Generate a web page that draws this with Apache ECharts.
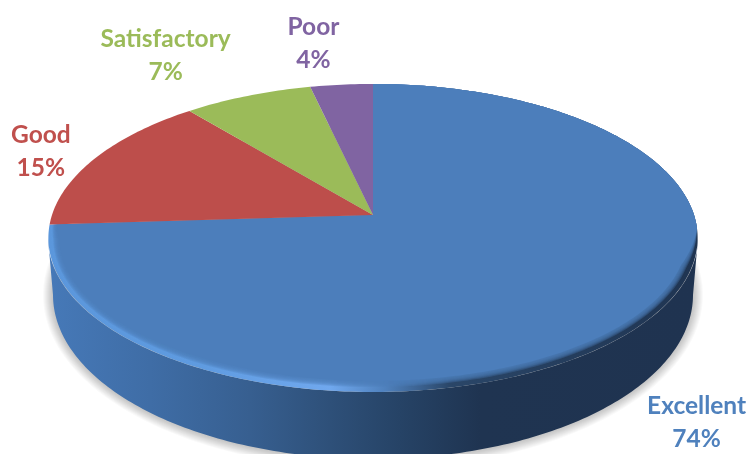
<!DOCTYPE html>
<html><head><meta charset="utf-8">
<style>html,body{margin:0;padding:0;background:#fff}#c{width:749px;height:454px}</style>
<script src="https://cdn.jsdelivr.net/npm/echarts@6/dist/echarts.min.js"></script>
</head><body><div id="c"></div>
<script>
const categories = ['Excellent', 'Good', 'Satisfactory', 'Poor'];
const values = [74.0, 15.0, 7.4, 3.6];
const colors = ['#4c7ebb', '#bd4e4b', '#9bbb59', '#8064a2'];
const textColors = ['#4f81bd', '#c0504d', '#9bbb59', '#8064a2'];
const labelNudge = [[63, 93], [-54, -7], [-82, -40], [-28, -41]];

// perspective disc layout
const CX = 373, CY = 215, B = 321, A = 150.6, K = 0.149;
const TOP = {cy: 238, rx: 325, ry: 154};
const BOT = {cy: 295, rx: 320, ry: 164};
const total = values.reduce((a, b) => a + b, 0);
function project(th) {
  const u = Math.sin(th), v = Math.cos(th), d = 1 + K * v;
  return [CX + B * u / d, CY - A * v / d];
}
function clamp(t) { return Math.max(0, Math.min(1, t)); }
function inset(p, amt) {
  const onRight = p[0] > CX;
  const t = onRight ? clamp((p[1] - 228) / 40) : clamp((p[1] - 195) / 45);
  const f = clamp((p[1] - 238) / 154);
  return [CX + (p[0] - CX) * (1 - amt * 11 / 325 * t), p[1] - amt * 11 * f];
}
function sector(a0, a1, amt) {
  const pts = [[CX, CY]], n = Math.max(8, Math.ceil((a1 - a0) * 60));
  for (let i = 0; i <= n; i++) {
    const p = project(a0 + (a1 - a0) * i / n);
    pts.push(amt ? inset(p, amt) : p);
  }
  return pts;
}
function wallPoints() {
  const pts = [], n = 180;
  for (let i = 0; i <= n; i++) {
    const a = Math.PI * i / n;
    pts.push([CX - BOT.rx * Math.cos(a), BOT.cy + BOT.ry * Math.sin(a)]);
  }
  for (let i = n; i >= 0; i--) {
    const a = Math.PI * i / n;
    pts.push([CX - TOP.rx * Math.cos(a), TOP.cy + TOP.ry * Math.sin(a)]);
  }
  return pts;
}
function hGrad(stops) {
  const x0 = 48, x1 = 698;
  return new echarts.graphic.LinearGradient(x0, 0, x1, 0,
    stops.map(s => ({offset: (s[0] - x0) / (x1 - x0), color: s[1]})), true);
}
const wallFill = [[48,'#4679b8'],[150,'#3f6da6'],[250,'#375f90'],[330,'#2e5079'],[400,'#264366'],[480,'#1f3451'],[698,'#1f3350']];
const rimFill = [[48,'#5b97dc'],[200,'#5f9be0'],[330,'#70a8ee'],[385,'#4f81bd'],[450,'#2a4668'],[698,'#1f3451']];

function renderItem(params, api) {
  const i = params.dataIndex;
  let start = 0;
  for (let j = 0; j < i; j++) start += values[j];
  const a0 = start / total * 2 * Math.PI;
  const a1 = (start + api.value(1)) / total * 2 * Math.PI;
  const kids = [];
  if (i === 0) {
    for (let d = 10; d >= 1; d--) {
      kids.push({type: 'ellipse', shape: {cx: CX, cy: BOT.cy, rx: BOT.rx + d, ry: BOT.ry + d},
        style: {fill: '#000', opacity: 0.024}});
    }
    kids.push({type: 'polygon', shape: {points: wallPoints()}, style: {fill: hGrad(wallFill)}});
    kids.push({type: 'polygon', shape: {points: sector(a0, a1)}, style: {fill: hGrad(rimFill)}});
    const steps = 7;
    for (let s = 1; s <= steps; s++) {
      const amt = 0.35 + 0.65 * s / steps;
      kids.push({type: 'polygon', shape: {points: sector(a0, a1, amt)},
        style: {fill: colors[i], opacity: s === steps ? 1 : 0.3}});
    }
  } else {
    kids.push({type: 'polygon', shape: {points: sector(a0, a1)}, style: {fill: colors[i]}});
  }
  const mid = project((a0 + a1) / 2);
  kids.push({type: 'text', z2: 10, style: {
    x: mid[0] + labelNudge[i][0], y: mid[1] + labelNudge[i][1],
    text: categories[i] + '\n' + Math.round(api.value(1)) + '%',
    align: 'center', verticalAlign: 'middle', lineHeight: 33,
    font: 'bold 24.5px Lato, "Open Sans", sans-serif', fill: textColors[i]}});
  return {type: 'group', children: kids};
}
const chart = echarts.init(document.getElementById('c'), null, {renderer: 'canvas'});
chart.setOption({
  animation: false,
  backgroundColor: '#fff',
  series: [{
    type: 'custom', coordinateSystem: 'none', silent: true,
    renderItem: renderItem,
    data: categories.map((c, i) => [i, values[i], c])
  }]
});
</script></body></html>
